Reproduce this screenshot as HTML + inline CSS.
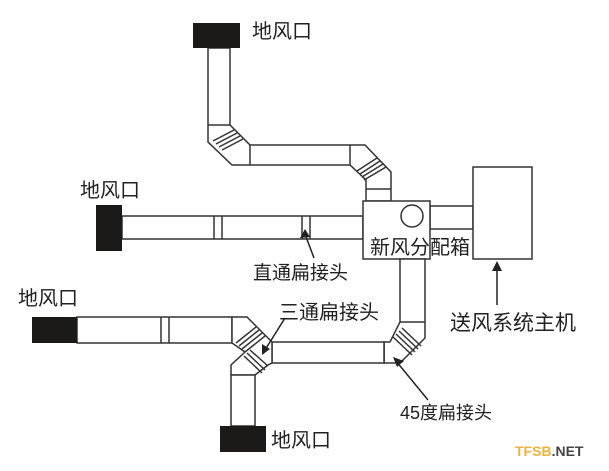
<!DOCTYPE html>
<html><head><meta charset="utf-8"><style>
html,body{margin:0;padding:0;background:#fff;width:609px;height:471px;overflow:hidden}
svg{display:block}
text{font-family:"Liberation Sans","Noto Sans CJK SC",sans-serif;fill:#222}
</style></head><body>
<svg width="609" height="471" viewBox="0 0 609 471" xmlns="http://www.w3.org/2000/svg">
<g fill="#fff" stroke="#333" stroke-width="1.5" stroke-linejoin="miter">
<!-- top branch -->
<polygon points="208,48 230,48 230,125 250,145 350,145 365,145 391,172 391,201 366,201 366,180 350,165 250,165 232,165 208,142"/>
<line x1="208" y1="125" x2="230" y2="125"/>
<line x1="250" y1="145" x2="250" y2="165"/>
<line x1="350" y1="145" x2="350" y2="165"/>
<line x1="366" y1="189" x2="391" y2="189"/>
<line x1="213" y1="141" x2="234" y2="130"/><line x1="216" y1="144" x2="237" y2="133"/><line x1="219" y1="147" x2="240" y2="136"/><line x1="222" y1="150" x2="243" y2="139"/>
<line x1="357" y1="171" x2="377" y2="158"/><line x1="360" y1="174" x2="380" y2="161"/><line x1="362" y1="177" x2="383" y2="164"/><line x1="364" y1="180" x2="386" y2="167"/>
<!-- middle branch -->
<rect x="122" y="216" width="241" height="23"/>
<line x1="214" y1="216" x2="214" y2="239"/><line x1="222" y1="216" x2="222" y2="239"/>
<line x1="302" y1="216" x2="302" y2="239"/><line x1="310" y1="216" x2="310" y2="239"/>
<!-- box and connector -->
<rect x="430" y="206" width="43" height="23"/>
<rect x="363" y="201" width="67" height="58"/>
<circle cx="412" cy="216" r="11"/>
<rect x="473" y="167" width="59" height="92"/>
<!-- right vertical & elbow -->
<polygon points="400,259 425,259 425,338 400,363 390,363 384,363 384,342 390,342 400,322"/>
<line x1="400" y1="322" x2="425" y2="322"/>
<line x1="384" y1="342" x2="384" y2="363"/>
<line x1="393" y1="337" x2="412" y2="355"/><line x1="396" y1="334" x2="415" y2="352"/><line x1="399" y1="331" x2="418" y2="349"/><line x1="402" y1="328" x2="421" y2="346"/>
<!-- bottom horizontal -->
<rect x="272" y="342" width="112" height="21"/>
<!-- left bottom duct -->
<rect x="77" y="317" width="155" height="26"/>
<line x1="161" y1="317" x2="161" y2="343"/><line x1="169" y1="317" x2="169" y2="343"/>
<!-- tee -->
<polygon points="232,317 247,317 272,342 272,363 268,365 255,375 231,375 231,365 245,352 232,343"/>
<line x1="236" y1="343" x2="256" y2="327"/><line x1="239" y1="346" x2="259" y2="330"/><line x1="242" y1="349" x2="262" y2="333"/><line x1="245" y1="352" x2="265" y2="336"/>
<line x1="244" y1="356" x2="262" y2="373"/><line x1="247" y1="353" x2="265" y2="370"/><line x1="250" y1="350" x2="268" y2="366"/>
<!-- bottom vertical -->
<rect x="231" y="375" width="24" height="51"/>
</g>
<g fill="#1c1a18">
<rect x="193" y="23" width="47" height="25"/>
<rect x="96" y="205" width="26" height="46"/>
<rect x="32" y="317" width="45" height="26"/>
<rect x="220" y="426" width="46" height="26"/>
</g>
<g stroke="#222" stroke-width="1.5" fill="none">
<line x1="314" y1="258" x2="305" y2="234"/>
<line x1="497" y1="305" x2="497" y2="266"/>
<line x1="285" y1="318" x2="265" y2="350"/>
<line x1="428" y1="400" x2="396" y2="361"/>
</g>
<g fill="#222">
<polygon points="305,229 300,238 310,237"/>
<polygon points="497,261 492,271 502,271"/>
<polygon points="262,355 262,344 270,349"/>
<polygon points="393,357 404,361 397,367"/>
</g>
<text x="252" y="38" font-size="20">地风口</text>
<text x="80" y="197" font-size="20">地风口</text>
<text x="18" y="305" font-size="20">地风口</text>
<text x="271" y="447" font-size="20">地风口</text>
<text x="253" y="279" font-size="19">直通扁接头</text>
<text x="370" y="254" font-size="20">新风分配箱</text>
<text x="450" y="330" font-size="21">送风系统主机</text>
<text x="279" y="319" font-size="20">三通扁接头</text>
<text x="400" y="419" font-size="18">45度扁接头</text>
<text x="515" y="456" font-size="14" font-weight="bold"><tspan fill="#f2b13c">TFSB</tspan><tspan fill="#444">.NET</tspan></text>
</svg>
</body></html>
